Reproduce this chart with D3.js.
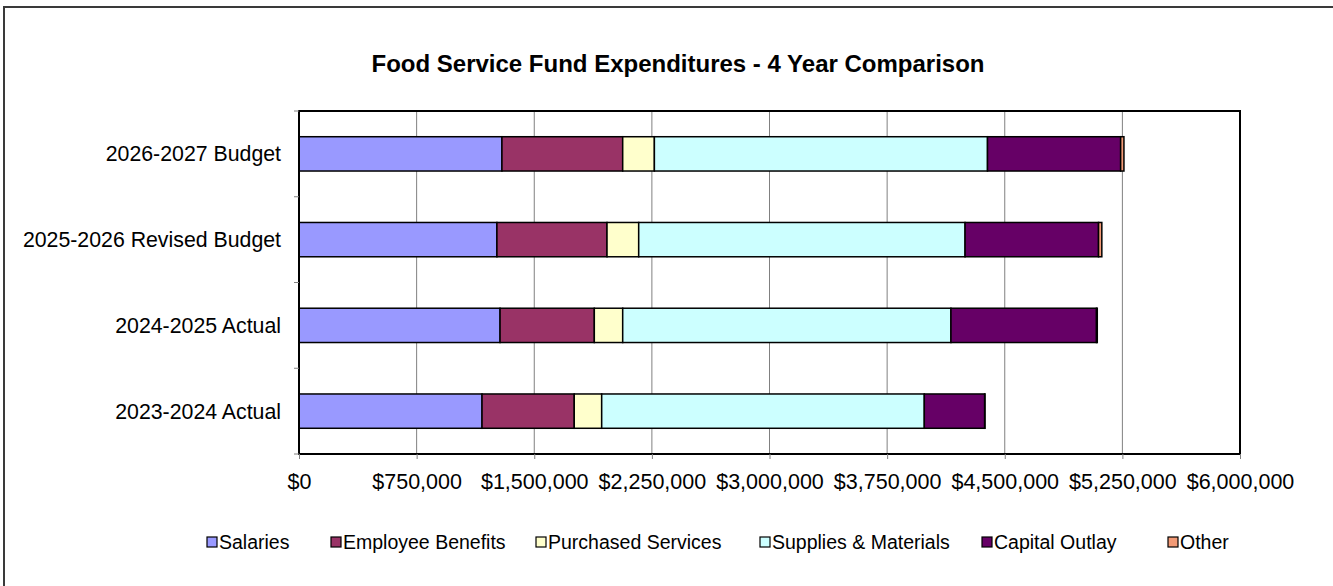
<!DOCTYPE html>
<html>
<head>
<meta charset="utf-8">
<script src="https://cdn.jsdelivr.net/npm/d3@7"></script>
<style>
  html, body { margin: 0; padding: 0; background: #fff; }
  svg { display: block; font-family: Arial, "Liberation Sans", sans-serif; }
</style>
</head>
<body>
<svg id="chart" width="1333" height="586"></svg>
<script>
// Fiscal years, listed top to bottom as drawn
const categories = ["2026-2027 Budget", "2025-2026 Revised Budget", "2024-2025 Actual", "2023-2024 Actual"];
const seriesNames = ["Salaries", "Employee Benefits", "Purchased Services", "Supplies & Materials", "Capital Outlay", "Other"];
const seriesColors = ["#9999FF", "#993366", "#FFFFCC", "#CCFFFF", "#660066", "#F29A76"];

// Expenditures per year, in dollars (same order as categories)
const salaries          = [1294000, 1262000, 1282000, 1167000];
const employeeBenefits  = [ 770000,  702000,  601000,  588000];
const purchasedServices = [ 202000,  202000,  181000,  175000];
const suppliesMaterials = [2124000, 2081000, 2093000, 2057000];
const capitalOutlay     = [ 849000,  851000,  928000,  385000];
const other             = [  21000,   21000,    5000,    2000];

const xTicks = [0, 750000, 1500000, 2250000, 3000000, 3750000, 4500000, 5250000, 6000000];

const seriesValues = [salaries, employeeBenefits, purchasedServices, suppliesMaterials, capitalOutlay, other];
const rows = categories.map((c, i) => {
  const r = { category: c };
  seriesNames.forEach((s, j) => { r[s] = seriesValues[j][i]; });
  return r;
});

const svg = d3.select("#chart");
const plot = { left: 299, right: 1240, top: 111, bottom: 454 };

// Outer chart frame
svg.append("rect")
  .attr("x", 4).attr("y", 7).attr("width", 1400).attr("height", 700)
  .attr("fill", "#fff").attr("stroke", "#3a3a3a").attr("stroke-width", 2);

const x = d3.scaleLinear().domain([0, 6000000]).range([plot.left, plot.right]);
const y = d3.scaleBand().domain(categories).range([plot.top, plot.bottom])
  .paddingInner(0.6).paddingOuter(0.3);

// Vertical gridlines
svg.append("g").selectAll("line").data(xTicks.slice(1, -1)).join("line")
  .attr("x1", d => x(d)).attr("x2", d => x(d))
  .attr("y1", plot.top).attr("y2", plot.bottom)
  .attr("stroke", "#808080").attr("stroke-width", 1);

// Stacked bars
const stack = d3.stack().keys(seriesNames)(rows);
const color = d3.scaleOrdinal().domain(seriesNames).range(seriesColors);

svg.append("g").selectAll("g").data(stack).join("g")
  .attr("fill", d => color(d.key))
  .selectAll("rect").data(d => d).join("rect")
  .attr("x", d => x(d[0]))
  .attr("y", d => y(d.data.category))
  .attr("width", d => Math.max(0, x(d[1]) - x(d[0])))
  .attr("height", y.bandwidth())
  .attr("stroke", "#000").attr("stroke-width", 1.5);

// Plot area border
svg.append("rect")
  .attr("x", plot.left).attr("y", plot.top)
  .attr("width", plot.right - plot.left).attr("height", plot.bottom - plot.top)
  .attr("fill", "none").attr("stroke", "#000").attr("stroke-width", 2);

// X axis
const xAxis = svg.append("g")
  .attr("transform", `translate(0,${plot.bottom})`)
  .call(d3.axisBottom(x).tickValues(xTicks).tickFormat(d3.format("$,")).tickSize(5).tickSizeOuter(0));
xAxis.select(".domain").remove();
xAxis.selectAll(".tick line").attr("stroke", "#808080");
xAxis.selectAll(".tick text")
  .attr("y", 20).attr("dy", "0.71em")
  .attr("font-size", 21.5).attr("font-family", "Arial, 'Liberation Sans', sans-serif").attr("fill", "#000");

// Y axis: ticks at category boundaries, labels centred on bars
const bounds = d3.range(categories.length + 1).map(i => plot.top + i * (plot.bottom - plot.top) / categories.length);
svg.append("g").selectAll("line").data(bounds).join("line")
  .attr("x1", plot.left - 5).attr("x2", plot.left)
  .attr("y1", d => d).attr("y2", d => d)
  .attr("stroke", "#808080").attr("stroke-width", 1);

svg.append("g").selectAll("text").data(categories).join("text")
  .attr("x", 281)
  .attr("y", d => y(d) + y.bandwidth() / 2)
  .attr("dy", "0.35em")
  .attr("text-anchor", "end")
  .attr("font-size", 21.3)
  .text(d => d);

// Title
svg.append("text")
  .attr("x", 678).attr("y", 64).attr("dy", "0.35em")
  .attr("text-anchor", "middle")
  .attr("font-size", 24).attr("font-weight", "bold")
  .text("Food Service Fund Expenditures - 4 Year Comparison");

// Legend
const legendX = [207, 331, 536, 760, 982, 1168];
const legend = svg.append("g").selectAll("g").data(seriesNames).join("g")
  .attr("transform", (d, i) => `translate(${legendX[i]},542)`);
legend.append("rect")
  .attr("x", 0).attr("y", -5).attr("width", 10).attr("height", 10)
  .attr("fill", d => color(d)).attr("stroke", "#000").attr("stroke-width", 1.2);
legend.append("text")
  .attr("x", 12).attr("dy", "0.35em")
  .attr("font-size", 19.5)
  .text(d => d);
</script>
</body>
</html>
